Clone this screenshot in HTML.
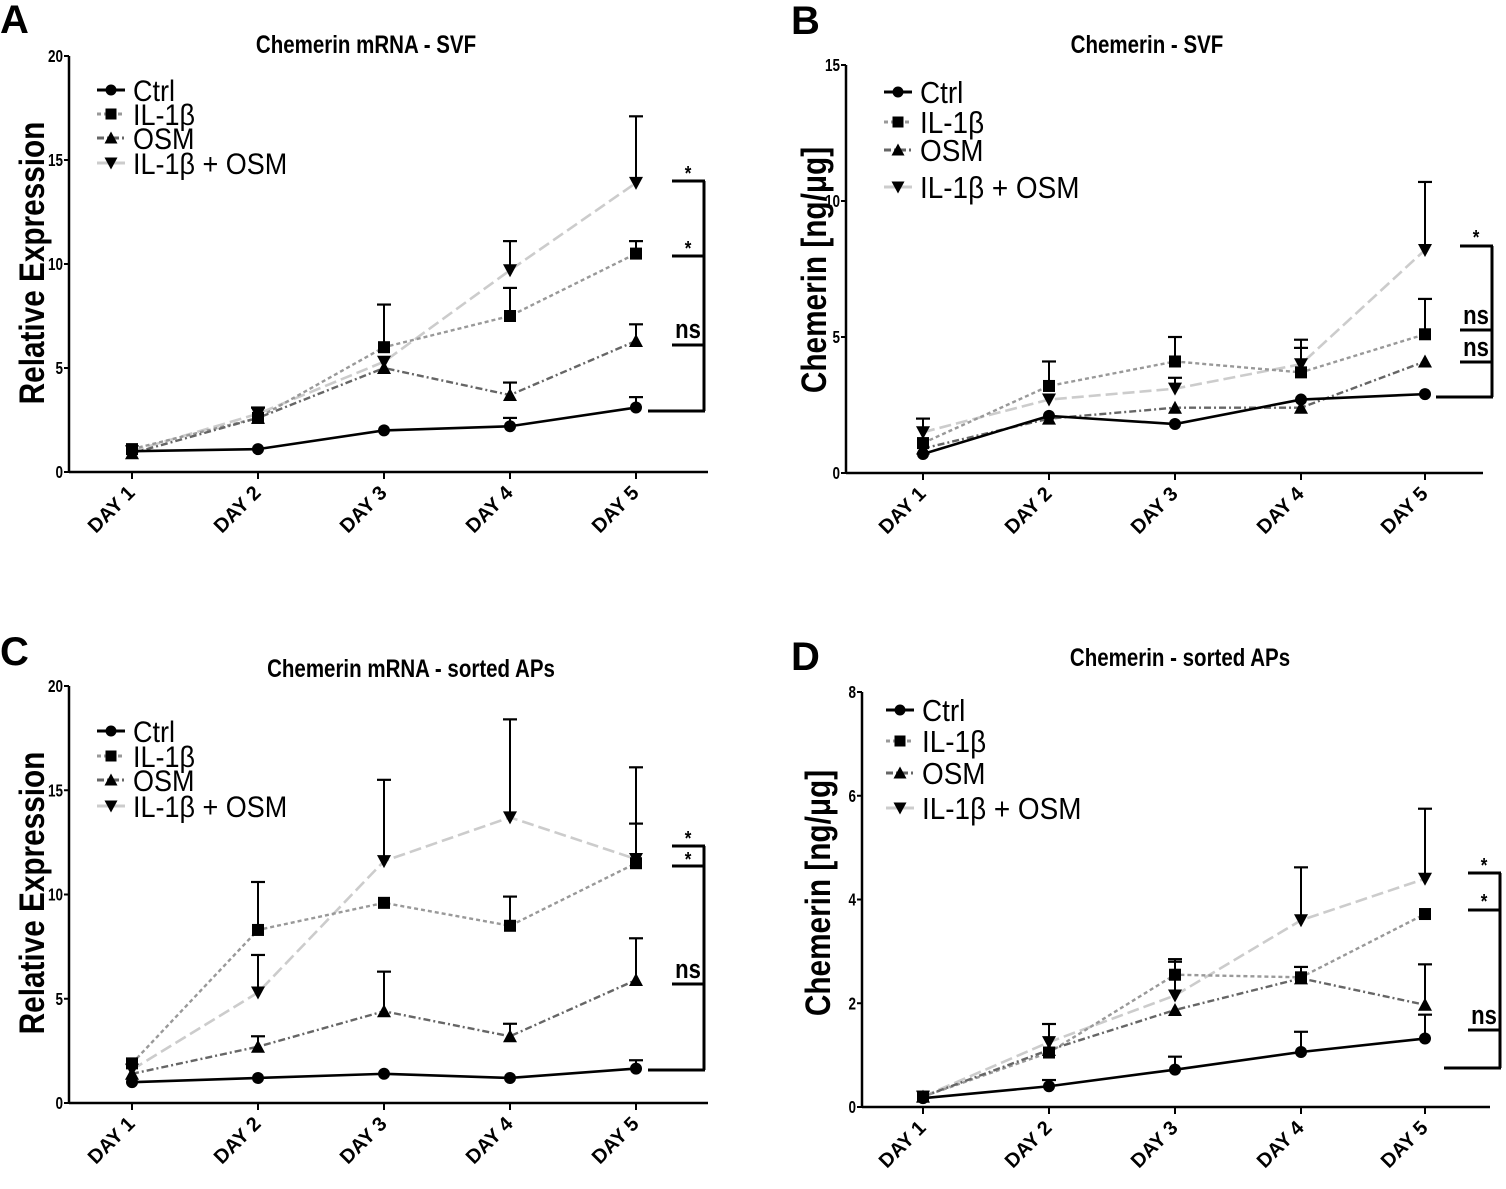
<!DOCTYPE html>
<html><head><meta charset="utf-8"><style>
body{margin:0;background:#fff;}
svg{display:block;font-family:"Liberation Sans",Arial,sans-serif;}
</style></head><body>
<svg id="s" width="1506" height="1189" viewBox="0 0 1506 1189" xmlns="http://www.w3.org/2000/svg"></svg>
<script>
const S=document.getElementById('s');let h='';
const styles={
 c:{col:'#000',dash:'',w:2.6,m:'o'},
 i:{col:'#999',dash:'4 3',w:2.4,m:'s'},
 o:{col:'#666',dash:'7 3 2 3',w:2.4,m:'t'},
 b:{col:'#ccc',dash:'12 5',w:2.6,m:'v'}
};
function T(x,y,txt,fs,sx,extra){return `<text transform="translate(${x},${y}) scale(${sx},1)" font-size="${fs}" ${extra||''}>${txt}</text>`;}
function marker(m,x,y,r){
 if(m=='o')return `<circle cx="${x}" cy="${y}" r="${r}" fill="#000"/>`;
 if(m=='s')return `<rect x="${x-r}" y="${y-r}" width="${2*r}" height="${2*r}" fill="#000"/>`;
 if(m=='t')return `<polygon points="${x},${y-r-1} ${x-r-1},${y+r} ${x+r+1},${y+r}" fill="#000"/>`;
 return `<polygon points="${x},${y+r+1} ${x-r-1},${y-r} ${x+r+1},${y-r}" fill="#000"/>`;
}
function panel(P){
 const {ax,y0,yTop,vmax,ticks,days,xend}=P;
 const Y=v=>y0-(y0-yTop)*v/vmax;
 h+=`<line x1="${ax}" y1="${yTop}" x2="${ax}" y2="${y0}" stroke="#000" stroke-width="2.5"/>`;
 h+=`<line x1="${ax}" y1="${y0}" x2="${xend}" y2="${y0}" stroke="#000" stroke-width="2.5"/>`;
 ticks.forEach(t=>{const y=Y(t);h+=`<line x1="${ax-5}" y1="${y}" x2="${ax}" y2="${y}" stroke="#000" stroke-width="2"/>`;
  h+=T(ax-6,y+6,t,18,0.75,'font-weight="bold" text-anchor="end"');});
 days.forEach((x,i)=>{h+=`<line x1="${x}" y1="${y0}" x2="${x}" y2="${y0+7}" stroke="#000" stroke-width="2"/>`;
  h+=`<text transform="translate(${x+4},${y0+22}) rotate(-45)" font-size="20" font-weight="bold" text-anchor="end">DAY ${i+1}</text>`;});
 ['b','i','o','c'].forEach(k=>{const st=styles[k];const d=P.data[k];
  const pts=d.v.map((v,i)=>`${days[i]},${Y(v)}`).join(' ');
  h+=`<polyline points="${pts}" fill="none" stroke="${st.col}" stroke-width="${st.w}" ${st.dash?`stroke-dasharray="${st.dash}"`:''}/>`;});
 ['b','i','o','c'].forEach(k=>{const st=styles[k];const d=P.data[k];
  d.v.forEach((v,i)=>{const e=d.e&&d.e[i];if(e){const x=days[i];h+=`<line x1="${x}" y1="${Y(v)}" x2="${x}" y2="${Y(e)}" stroke="#000" stroke-width="2"/><line x1="${x-7}" y1="${Y(e)}" x2="${x+7}" y2="${Y(e)}" stroke="#000" stroke-width="2.2"/>`;}
   h+=marker(st.m,days[i],Y(v),6);});});
 const B=P.br;h+=`<line x1="${B.x}" y1="${B.ys[0]}" x2="${B.x}" y2="${B.ys[B.ys.length-1]}" stroke="#000" stroke-width="3"/>`;
 B.ys.forEach((y,i)=>{const x1=i==B.ys.length-1?B.x-56:B.x-32;h+=`<line x1="${x1}" y1="${y}" x2="${B.x+1}" y2="${y}" stroke="#000" stroke-width="3"/>`;});
 B.lab.forEach(l=>{h+=T(B.x-16,l[1],l[0],l[0]=='*'?20:26,0.85,'font-weight="bold" text-anchor="middle"');});
 const L=P.leg;const names=['Ctrl','IL-1β','OSM','IL-1β + OSM'];
 ['c','i','o','b'].forEach((k,i)=>{const st=styles[k];const y=L.ys[i];
  h+=`<line x1="${L.x}" y1="${y}" x2="${L.x+28}" y2="${y}" stroke="${st.col}" stroke-width="3" ${st.dash?`stroke-dasharray="${st.dash}"`:''}/>`;
  h+=marker(st.m,L.x+14,y,5.5);
  h+=T(L.x+36,y+L.fs*0.36,names[i],L.fs,0.9,'');});
 h+=T(P.t[1],P.t[2],P.t[0],25,0.82,'font-weight="bold" text-anchor="middle"');
 h+=`<text x="${P.L[1]}" y="${P.L[2]}" font-size="40" font-weight="bold">${P.L[0]}</text>`;
 h+=`<text transform="translate(${P.yl[1]},${P.yl[2]}) rotate(-90) scale(0.85,1)" font-size="35" font-weight="bold" text-anchor="middle">${P.yl[0]}</text>`;
}
const dA=[132,258,384,510,636], dB=[923,1049,1175,1301,1425];
panel({ax:69,y0:472,yTop:56,vmax:20,ticks:[0,5,10,15,20],days:dA,xend:708,
 data:{c:{v:[1,1.1,2,2.2,3.1],e:[0,0,0,2.6,3.6]},i:{v:[1.1,2.6,6,7.5,10.5],e:[0,3.1,8.05,8.85,11.1]},o:{v:[0.9,2.6,5,3.7,6.3],e:[0,0,0,4.3,7.1]},b:{v:[1,2.8,5.3,9.7,13.9],e:[0,0,0,11.1,17.1]}},
 br:{x:704,ys:[181,256,345,411],lab:[['*',180],['*',255],['ns',338]]},
 leg:{x:97,ys:[90,114,138,163],fs:30},t:['Chemerin mRNA - SVF',366,53],L:['A',0,33],yl:['Relative Expression',44,263]});
panel({ax:846,y0:473,yTop:65,vmax:15,ticks:[0,5,10,15],days:dB,xend:1483,
 data:{c:{v:[0.7,2.1,1.8,2.7,2.9],e:[0,0,0,0,0]},i:{v:[1.1,3.2,4.1,3.7,5.1],e:[0,4.1,5.0,4.6,6.4]},o:{v:[0.9,2.0,2.4,2.4,4.1],e:[0,0,0,0,0]},b:{v:[1.5,2.7,3.1,4.0,8.2],e:[2.0,0,3.5,4.9,10.7]}},
 br:{x:1492,ys:[246,330,362,397],lab:[['*',244],['ns',324],['ns',356]]},
 leg:{x:884,ys:[92,122,150,187],fs:31},t:['Chemerin - SVF',1147,53],L:['B',791,34],yl:['Chemerin [ng/μg]',826,270]});
panel({ax:69,y0:1103,yTop:686,vmax:20,ticks:[0,5,10,15,20],days:dA,xend:708,
 data:{c:{v:[1,1.2,1.4,1.2,1.65],e:[0,0,0,0,2.05]},i:{v:[1.9,8.3,9.6,8.5,11.5],e:[0,10.6,0,9.9,13.4]},o:{v:[1.4,2.7,4.4,3.2,5.9],e:[0,3.2,6.3,3.8,7.9]},b:{v:[1.6,5.3,11.6,13.7,11.7],e:[0,7.1,15.5,18.4,16.1]}},
 br:{x:704,ys:[846,866,984,1070],lab:[['*',845],['*',866],['ns',978]]},
 leg:{x:97,ys:[731,756,780,806],fs:30},t:['Chemerin mRNA - sorted APs',411,677],L:['C',0,665],yl:['Relative Expression',44,893]});
panel({ax:862,y0:1107,yTop:692,vmax:8,ticks:[0,2,4,6,8],days:dB,xend:1490,
 data:{c:{v:[0.17,0.4,0.72,1.06,1.32],e:[0,0.52,0.97,1.45,1.78]},i:{v:[0.2,1.05,2.55,2.5,3.72],e:[0,0,2.8,0,0]},o:{v:[0.2,1.1,1.87,2.48,1.97],e:[0,0,0,2.7,2.75]},b:{v:[0.2,1.25,2.15,3.6,4.4],e:[0,1.6,2.85,4.62,5.75]}},
 br:{x:1500,ys:[873,910,1030,1068],lab:[['*',872],['*',908],['ns',1024]]},
 leg:{x:886,ys:[710,741,773,808],fs:31},t:['Chemerin - sorted APs',1180,666],L:['D',791,670],yl:['Chemerin [ng/μg]',830,893]});
S.innerHTML=h;
</script>
</body></html>
